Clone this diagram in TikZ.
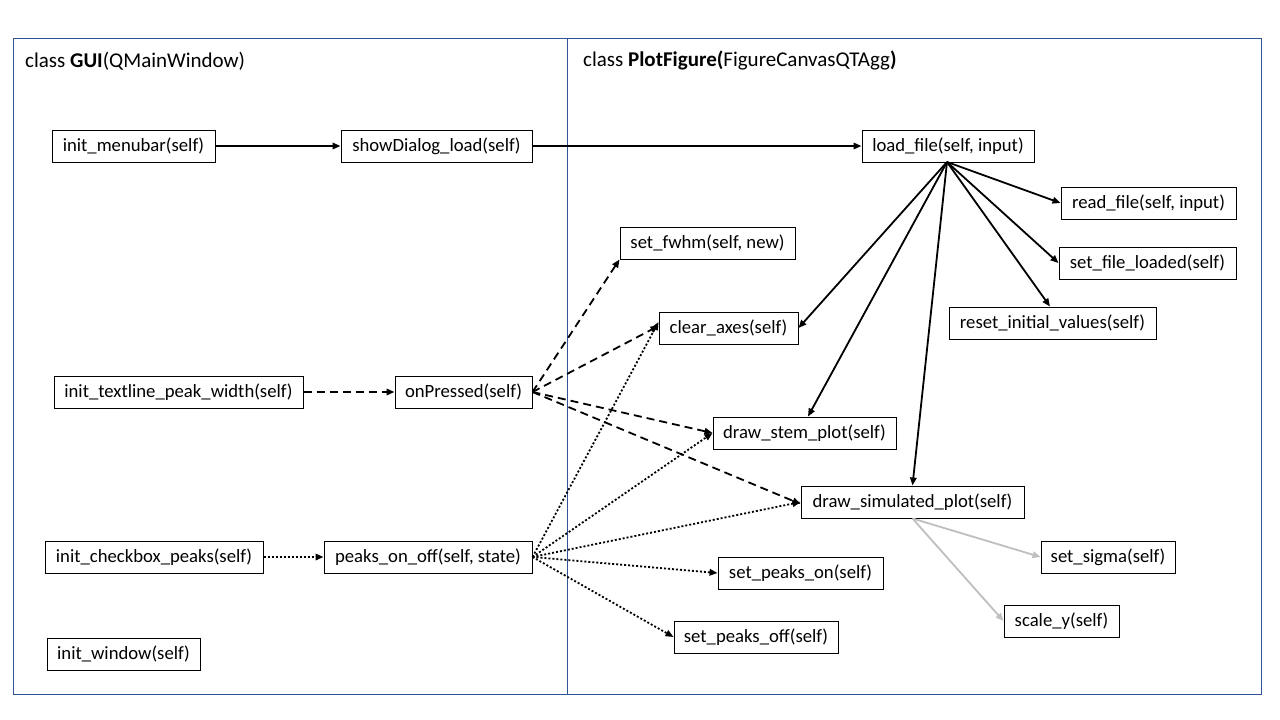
\documentclass[tikz,border=0pt]{standalone}
\usepackage{fontspec}
\setmainfont{Carlito}
\usetikzlibrary{arrows.meta}
\definecolor{framec}{HTML}{2F5597}
\definecolor{grayarr}{HTML}{BFBFBF}
\begin{document}
\begin{tikzpicture}[x=1pt,y=-1pt,
  box/.style={draw=black,line width=1pt,fill=white,minimum height=32pt,inner sep=0pt,font=\fontsize{18.7}{20}\selectfont},
  ttl/.style={anchor=west,inner sep=0pt,font=\fontsize{21}{23}\selectfont},
  arr/.style={line width=1.8pt,-{Triangle[length=8pt,width=6.5pt]}},
  dsh/.style={arr,dash pattern=on 8pt off 5pt},
  dtt/.style={arr,dash pattern=on 2pt off 2pt},
  gry/.style={arr,draw=grayarr,-{Triangle[length=8pt,width=6.5pt,fill=grayarr]}}
]
\useasboundingbox (0,0) rectangle (1280,720);
\fill[white] (0,0) rectangle (1280,720);
\draw[framec,line width=1pt] (13,38) rectangle (1261,694);
\draw[framec,line width=1pt] (567,38) -- (567,694);
\node[ttl] (t1) at (25,61) {class \textbf{GUI}(QMainWindow)};
\node[ttl] (t2) at (583,61) {class \textbf{PlotFigure(}FigureCanvasQTAgg\textbf{)}};

\node[box,minimum width=163pt] (menubar) at (133.5,146) {init\_menubar(self)};
\node[box,minimum width=191pt] (showdlg) at (436.5,146) {showDialog\_load(self)};
\node[box,minimum width=172pt] (load) at (948,146) {load\_file(self, input)};
\node[box,minimum width=175pt] (read) at (1148.5,203) {read\_file(self, input)};
\node[box,minimum width=175pt] (fwhm) at (707.5,243) {set\_fwhm(self, new)};
\node[box,minimum width=177pt] (loaded) at (1147.5,263) {set\_file\_loaded(self)};
\node[box,minimum width=207pt] (reset) at (1052.5,323) {reset\_initial\_values(self)};
\node[box,minimum width=139pt] (clear) at (728.5,328) {clear\_axes(self)};
\node[box,minimum width=249pt] (textline) at (178.5,392) {init\_textline\_peak\_width(self)};
\node[box,minimum width=137pt] (onp) at (463.5,392) {onPressed(self)};
\node[box,minimum width=183pt] (stem) at (804.5,433) {draw\_stem\_plot(self)};
\node[box,minimum width=223pt] (sim) at (912.5,502) {draw\_simulated\_plot(self)};
\node[box,minimum width=218pt] (check) at (154,557) {init\_checkbox\_peaks(self)};
\node[box,minimum width=208pt] (peaks) at (428,557) {peaks\_on\_off(self, state)};
\node[box,minimum width=134pt] (sigma) at (1108,557) {set\_sigma(self)};
\node[box,minimum width=165pt] (pon) at (800.5,573) {set\_peaks\_on(self)};
\node[box,minimum width=115pt] (scaley) at (1061.5,621) {scale\_y(self)};
\node[box,minimum width=164pt] (poff) at (756,637) {set\_peaks\_off(self)};
\node[box,minimum width=153pt] (win) at (123.5,654) {init\_window(self)};

% solid
\draw[arr] (menubar.east) -- (showdlg.west);
\draw[arr] (showdlg.east) -- (load.west);
\coordinate (ls) at (947,162);
\draw[arr] (ls) -- (read.west);
\draw[arr] (ls) -- (loaded.west);
\draw[arr] (ls) -- (reset.north -| 1050,0);
\draw[arr] (ls) -- (clear.east);
\draw[arr] (ls) -- (stem.north -| 808,0);
\draw[arr] (ls) -- (sim.north);

% dashed
\draw[dsh] (textline.east) -- (onp.west);
\draw[dsh] (onp.east) -- (fwhm.south west);
\draw[dsh] (onp.east) -- ([yshift=2pt]clear.west);
\draw[dsh] (onp.east) -- (stem.west);
\draw[dsh] (onp.east) -- ([yshift=-2pt]sim.west);

% dotted
\draw[dtt] (check.east) -- (peaks.west);
\draw[dtt] (peaks.east) -- ([yshift=6pt]clear.west);
\draw[dtt] (peaks.east) -- (stem.west);
\draw[dtt] (peaks.east) -- (sim.west);
\draw[dtt] (peaks.east) -- (pon.west);
\draw[dtt] (peaks.east) -- (poff.west);

% gray
\draw[gry] (sim.south) -- (sigma.west);
\draw[gry] (sim.south) -- (scaley.west);
\end{tikzpicture}
\end{document}
